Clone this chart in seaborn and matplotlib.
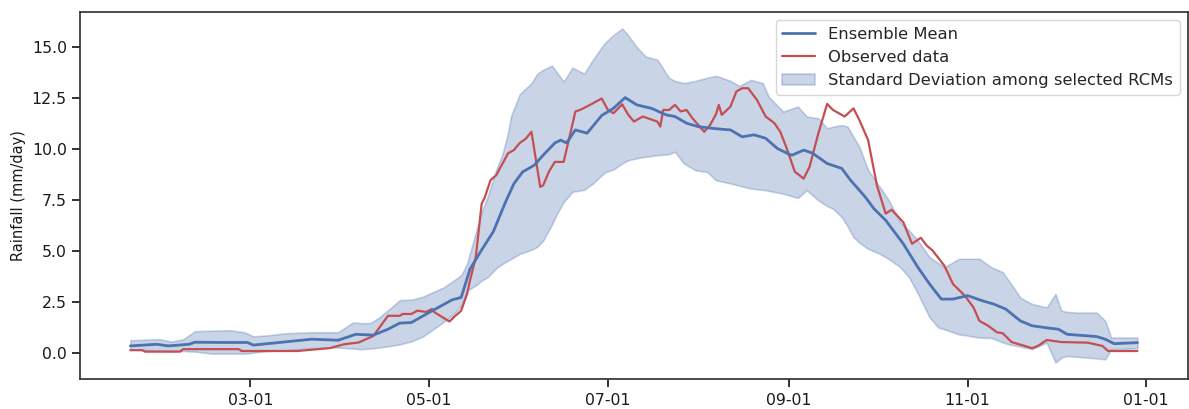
import numpy as np
import pandas as pd
import matplotlib
matplotlib.use("Agg")
import matplotlib.pyplot as plt
import matplotlib.dates as mdates
from matplotlib.patches import Patch
from matplotlib.lines import Line2D
import seaborn as sns

# Day-of-year positions (non-leap year) and daily rainfall climatology values (mm/day)
mean_doy = [19, 28, 32, 39, 41, 50, 59, 61, 70, 81, 90, 96, 102, 107, 111, 115, 122, 129,
            132, 135, 139, 143, 147, 150, 153, 157, 160, 164, 166, 168, 171, 175, 180, 184,
            188, 192, 197, 202, 205, 209, 213, 219, 224, 228, 232, 236, 240, 244, 245, 249,
            252, 257, 262, 265, 270, 273, 277, 283, 288, 292, 296, 300, 305, 310, 314, 318,
            323, 327, 333, 336, 339, 349, 352, 355, 363]
ensemble_mean = [0.33, 0.41, 0.33, 0.41, 0.51, 0.50, 0.50, 0.37, 0.50, 0.66, 0.61, 0.90, 0.86,
                 1.15, 1.45, 1.48, 2.05, 2.60, 2.71, 4.10, 5.05, 5.95, 7.35, 8.30, 8.88, 9.21,
                 9.70, 10.30, 10.44, 10.30, 10.94, 10.78, 11.65, 12.00, 12.53, 12.17, 12.00,
                 11.68, 11.60, 11.27, 11.10, 11.00, 10.94, 10.60, 10.70, 10.53, 10.03, 9.75,
                 9.70, 9.95, 9.80, 9.29, 9.05, 8.47, 7.65, 7.07, 6.50, 5.35, 4.19, 3.37, 2.63,
                 2.63, 2.80, 2.55, 2.38, 2.14, 1.56, 1.32, 1.20, 1.15, 0.90, 0.79, 0.66, 0.44,
                 0.49]

obs_doy = [19, 23, 24, 36, 37, 56, 57, 76, 87, 92, 97, 102, 107, 111, 112, 115, 117, 120, 122,
           123, 128, 130, 132, 134, 135, 137, 139, 140, 142, 144, 148, 150, 152, 154, 156, 159,
           160, 162, 164, 167, 169, 171, 173, 176, 178, 180, 182, 184, 187, 189, 191, 194, 199,
           200, 201, 203, 205, 207, 209, 211, 214, 215, 217, 219, 220, 221, 224, 226, 228, 230,
           233, 236, 239, 241, 243, 246, 249, 251, 254, 257, 259, 263, 266, 268, 271, 274, 277,
           279, 283, 286, 289, 291, 293, 297, 300, 304, 307, 309, 312, 315, 317, 320, 327, 329,
           332, 337, 346, 351, 353, 363]
observed = [0.12, 0.12, 0.05, 0.05, 0.17, 0.17, 0.08, 0.08, 0.22, 0.41, 0.50, 0.82, 1.81, 1.81,
            1.90, 1.90, 2.06, 2.00, 2.14, 1.97, 1.53, 1.81, 2.06, 2.88, 3.54, 4.70, 7.32, 7.60,
            8.47, 8.72, 9.79, 9.95, 10.30, 10.50, 10.85, 8.14, 8.22, 8.90, 9.37, 9.37, 10.60,
            11.84, 11.95, 12.17, 12.33, 12.48, 11.95, 11.76, 12.20, 11.70, 11.35, 11.60, 11.35,
            11.10, 11.92, 11.92, 12.17, 11.85, 11.92, 11.51, 11.02, 10.85, 11.18, 11.70, 12.17,
            11.68, 12.09, 12.83, 12.99, 12.99, 12.42, 11.60, 11.27, 10.85, 10.11, 8.88, 8.55,
            9.13, 10.77, 12.22, 11.92, 11.60, 12.00, 11.43, 10.44, 8.22, 6.83, 7.02, 6.41, 5.35,
            5.64, 5.26, 5.02, 4.28, 3.37, 2.80, 2.22, 1.56, 1.32, 1.00, 0.95, 0.52, 0.22, 0.33,
            0.62, 0.52, 0.49, 0.33, 0.08, 0.08]

band_doy = [19, 25, 29, 33, 37, 41, 47, 53, 58, 61, 66, 72, 81, 90, 95, 98, 101, 104, 108, 111,
            115, 119, 122, 126, 129, 132, 134, 137, 139, 141, 144, 146, 148, 149, 152, 156, 158,
            160, 163, 165, 167, 170, 174, 177, 181, 184, 187, 189, 192, 195, 199, 203, 205, 208,
            212, 216, 219, 224, 227, 231, 235, 237, 242, 247, 250, 254, 257, 259, 262, 264, 266,
            268, 271, 275, 278, 282, 285, 288, 292, 295, 297, 302, 309, 313, 317, 319, 323, 327,
            332, 335, 337, 339, 342, 346, 349, 352, 354, 363]
std_low = [0.17, 0.13, 0.10, 0.08, 0.08, 0.05, -0.05, -0.05, -0.05, 0.00, 0.08, 0.12, 0.22,
           0.25, 0.20, 0.17, 0.20, 0.25, 0.33, 0.41, 0.55, 0.80, 1.10, 1.50, 1.85, 2.30, 3.04,
           3.30, 3.54, 3.70, 4.15, 4.35, 4.52, 4.60, 4.85, 5.05, 5.20, 5.50, 6.30, 6.90, 7.40,
           7.90, 8.00, 8.31, 8.85, 9.00, 9.29, 9.45, 9.55, 9.62, 9.70, 9.75, 9.87, 9.30, 8.96,
           8.88, 8.47, 8.31, 8.20, 8.06, 8.00, 7.95, 7.81, 7.60, 7.98, 7.48, 7.20, 7.07, 6.66,
           6.20, 5.67, 5.40, 5.10, 4.85, 4.60, 4.19, 3.70, 2.90, 1.73, 1.23, 1.15, 0.90, 0.74,
           0.72, 0.50, 0.41, 0.30, 0.17, 0.49, -0.49, -0.25, -0.16, -0.20, -0.25, -0.28, -0.33,
           0.17, 0.22]
std_high = [0.61, 0.64, 0.66, 0.54, 0.65, 1.05, 1.08, 1.10, 1.00, 0.80, 0.85, 0.95, 1.00, 1.00,
            1.48, 1.45, 1.45, 1.73, 2.20, 2.58, 2.60, 2.75, 2.95, 3.20, 3.50, 3.80, 4.36, 5.90,
            6.90, 7.65, 9.00, 9.70, 10.80, 11.60, 12.70, 13.24, 13.70, 13.90, 14.10, 13.70,
            13.32, 14.00, 13.70, 14.39, 15.20, 15.60, 15.92, 15.60, 15.00, 14.55, 14.39, 13.49,
            13.35, 13.24, 13.35, 13.50, 13.60, 13.35, 13.10, 13.40, 13.24, 12.58, 11.84, 12.09,
            11.60, 11.51, 11.02, 11.10, 11.18, 11.10, 10.60, 10.11, 8.96, 8.14, 7.50, 6.40, 6.00,
            5.51, 4.69, 4.40, 4.19, 4.61, 4.61, 4.20, 3.95, 3.54, 2.70, 2.39, 2.22, 2.88, 2.06,
            2.00, 1.97, 1.97, 1.97, 1.56, 0.74, 0.74]

YEAR_START = pd.Timestamp("2001-01-01")


def to_dates(doy):
    return YEAR_START + pd.to_timedelta(np.asarray(doy) - 1, unit="D")


sns.set_theme(style="ticks", context="notebook")
blue, red = sns.color_palette("deep")[0], sns.color_palette("deep")[3]

fig, ax = plt.subplots(figsize=(11.89, 4.09), dpi=100)
fig.subplots_adjust(left=0.0673, right=0.999, top=0.971, bottom=0.0726)

# Spread among models, outlined in the same hue
ax.fill_between(to_dates(band_doy), std_low, std_high, facecolor=blue, edgecolor=blue,
                linewidth=1.2, alpha=0.3, zorder=1)

mean_df = pd.DataFrame({"date": to_dates(mean_doy), "rain": ensemble_mean})
obs_df = pd.DataFrame({"date": to_dates(obs_doy), "rain": observed})
sns.lineplot(data=mean_df, x="date", y="rain", ax=ax, color=blue, linewidth=2.0, zorder=3)
sns.lineplot(data=obs_df, x="date", y="rain", ax=ax, color=red, linewidth=1.6, zorder=2)

ax.xaxis.set_major_locator(mdates.MonthLocator(bymonth=[1, 3, 5, 7, 9, 11]))
ax.xaxis.set_major_formatter(mdates.DateFormatter("%m-%d"))
ax.tick_params(axis="both", labelsize=11.3, colors="0.1")
ax.set_xlabel("")
ax.set_ylabel("Rainfall (mm/day)", fontsize=10.5, color="0.1")
for spine in ax.spines.values():
    spine.set_color("0.2")

handles = [
    Line2D([], [], color=blue, linewidth=2.0),
    Line2D([], [], color=red, linewidth=1.6),
    Patch(facecolor=blue, edgecolor=blue, linewidth=1.2, alpha=0.3),
]
labels = ["Ensemble Mean", "Observed data", "Standard Deviation among selected RCMs"]
ax.legend(handles, labels, loc="upper right", fontsize=11.8, frameon=True)

fig.savefig("out.png", dpi=100)
